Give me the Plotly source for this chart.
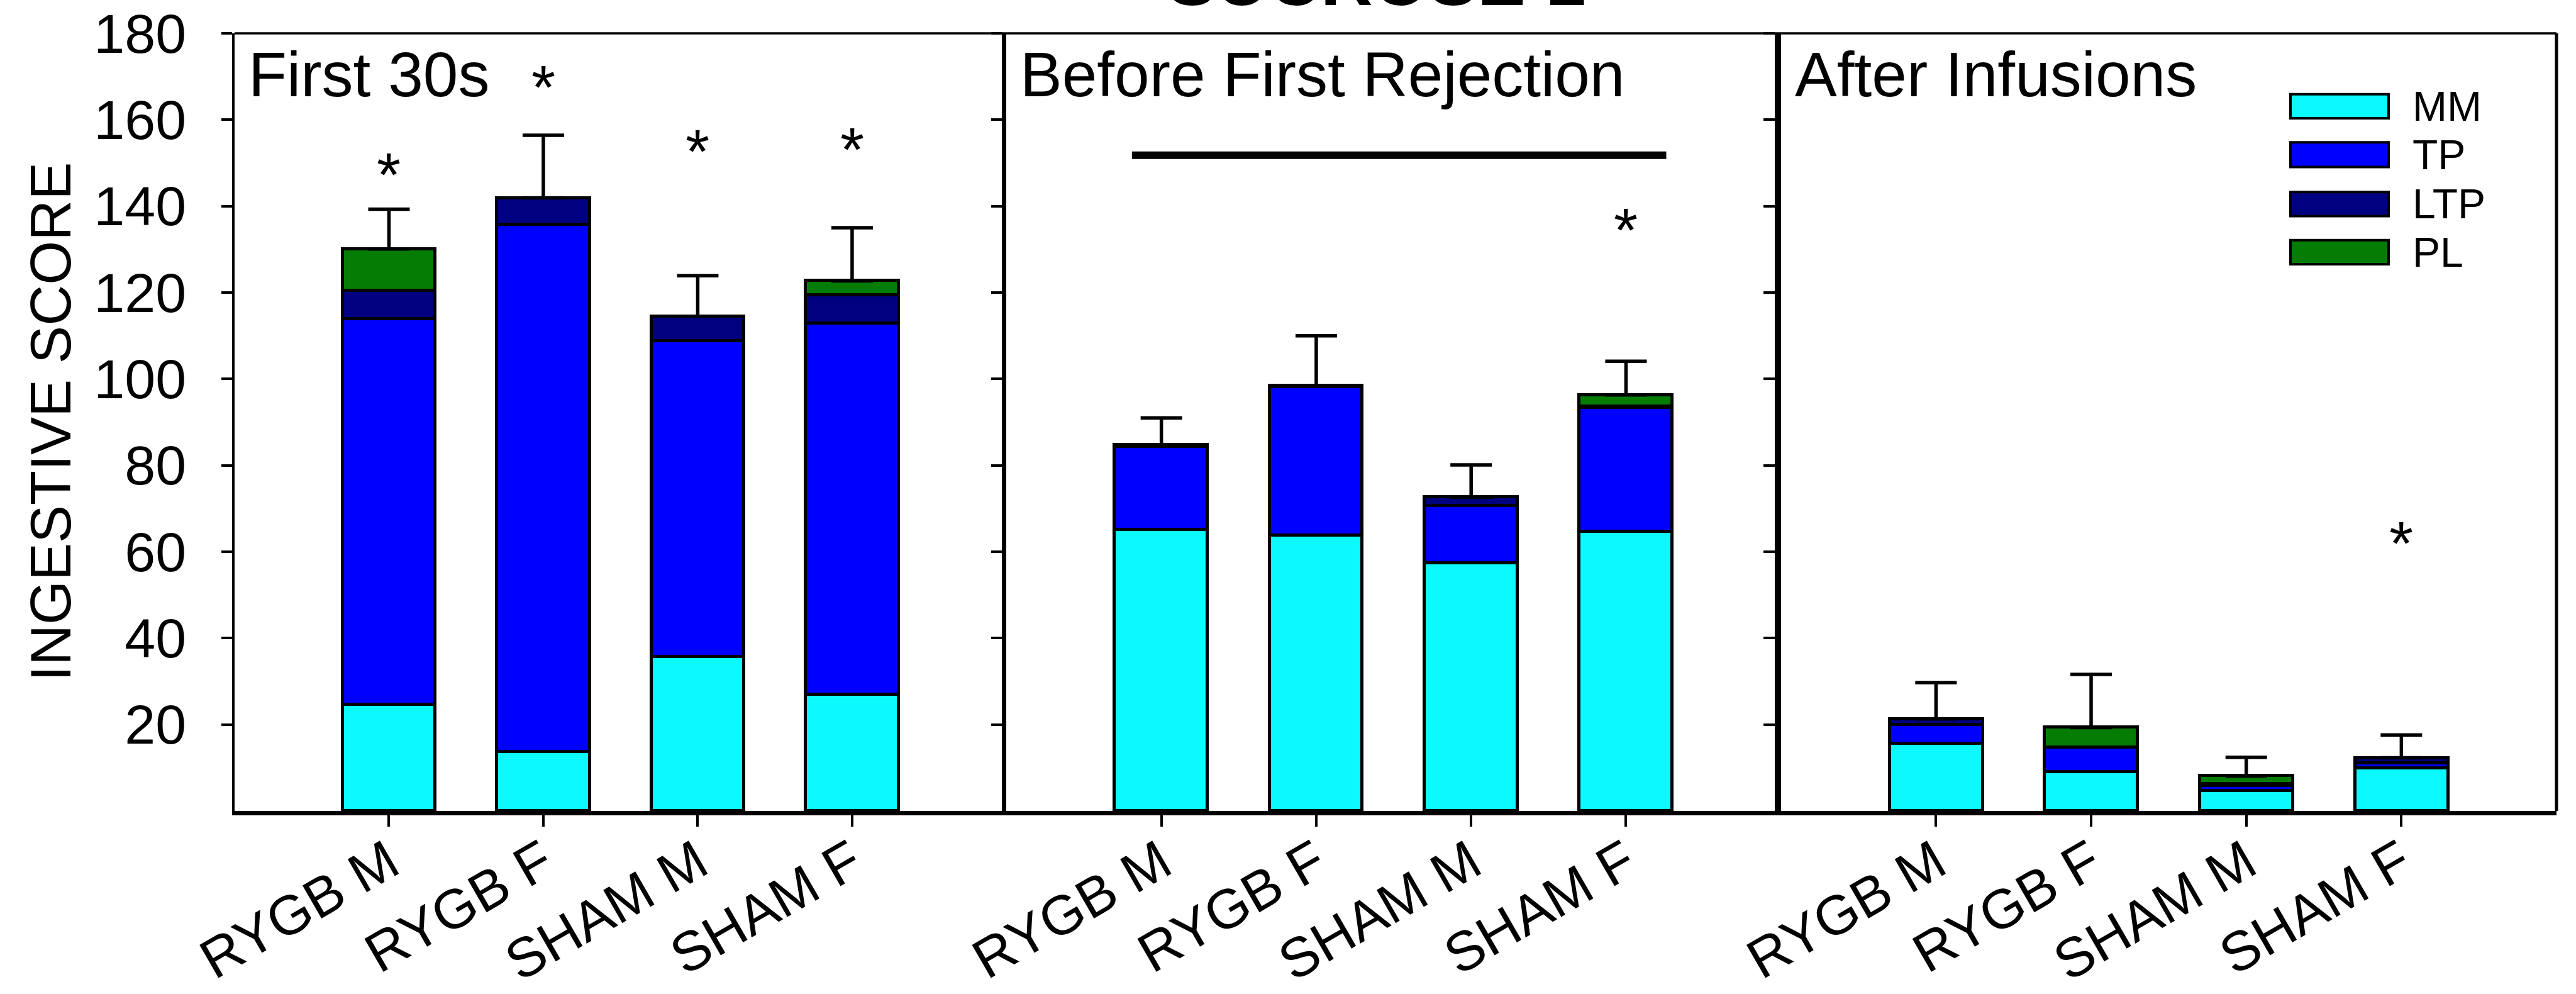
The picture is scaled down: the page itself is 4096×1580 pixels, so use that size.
import plotly.graph_objects as go

# ---- data -------------------------------------------------------------
GROUPS = ["RYGB M", "RYGB F", "SHAM M", "SHAM F"]
PANELS = ["First 30s", "Before First Rejection", "After Infusions"]
SERIES = ["MM", "TP", "LTP", "PL"]

# stacked components of the ingestive score, one list per panel
MM = [[24.6, 13.7, 35.7, 27.0],
      [65.1, 63.8, 57.4, 64.7],
      [15.6, 9.1, 4.7, 9.9]]
TP = [[89.3, 122.1, 73.1, 85.8],
      [19.2, 34.3, 13.3, 28.6],
      [4.3, 5.6, 1.1, 1.1]]
LTP = [[6.5, 6.1, 5.7, 6.6],
       [0.5, 0.4, 1.9, 0.4],
       [1.4, 0.0, 0.4, 1.3]]
PL = [[9.7, 0.0, 0.0, 3.3],
      [0.0, 0.0, 0.0, 2.6],
      [0.0, 4.6, 1.9, 0.0]]
SEM = [[9.2, 14.5, 9.4, 12.3],
       [6.2, 11.5, 7.5, 7.8],
       [8.4, 12.3, 4.3, 5.3]]

# significance marks: (panel, group index, height of the asterisk)
STARS = [(0, 0, 150.3), (0, 1, 170.6), (0, 2, 155.7), (0, 3, 156.1),
         (1, 3, 137.5), (2, 3, 65.0)]
# bar across the "Before First Rejection" groups
BRACKET = (1, -0.19, 3.26, 151.8)

Y_TICKS = [20, 40, 60, 80, 100, 120, 140, 160, 180]

# ---- style -------------------------------------------------------------
COLORS = {"MM": "#0CF9FF", "TP": "#0000FF", "LTP": "#000080", "PL": "#057D05"}
FONT = "Arial, Liberation Sans, sans-serif"

W, H = 4096, 1580
L, R, T, B = 373, 31, 53, 291
PW, PH = W - L - R, H - T - B
D1 = (1600.4 - L) / PW
D2 = (2831.7 - L) / PW


def px_x(p):
    return (p - L) / PW


def px_y(p):
    return 1 - (p - T) / PH


POS = list(range(len(GROUPS)))
stacks = {"MM": MM, "TP": TP, "LTP": LTP, "PL": PL}

fig = go.Figure()
for p in range(len(PANELS)):
    xa = "x" if p == 0 else f"x{p + 1}"
    ya = "y" if p == 0 else f"y{p + 1}"
    for s in SERIES:
        fig.add_trace(go.Bar(
            x=POS, y=stacks[s][p], name=s, width=0.6,
            marker=dict(color=COLORS[s], line=dict(color="black", width=5)),
            xaxis=xa, yaxis=ya, showlegend=False, hoverinfo="skip",
        ))
    totals = [sum(stacks[s][p][i] for s in SERIES) for i in POS]
    fig.add_trace(go.Scatter(
        x=POS, y=totals, mode="markers",
        marker=dict(size=1, color="rgba(0,0,0,0)"),
        error_y=dict(type="data", symmetric=False, array=SEM[p],
                     arrayminus=[0] * len(POS), color="black",
                     thickness=5.5, width=33),
        xaxis=xa, yaxis=ya, showlegend=False, hoverinfo="skip",
    ))

axis_common = dict(range=[-1, 4], tickvals=POS, ticktext=GROUPS, tickangle=-30,
                   ticks="outside", ticklen=17.5, tickwidth=3.5, tickcolor="black",
                   ticklabelstandoff=-28,
                   showline=True, linecolor="black", linewidth=7,
                   showgrid=False, zeroline=False, automargin=False,
                   tickfont=dict(family=FONT, size=88, color="black"))
yaxis_common = dict(range=[0, 180], tickvals=Y_TICKS, ticks="outside",
                    ticklen=17.5, tickwidth=3.5, tickcolor="black",
                    showline=True, linecolor="black",
                    showgrid=False, zeroline=False, automargin=False,
                    tickfont=dict(family=FONT, size=88, color="black"))

fig.update_layout(
    width=W, height=H,
    margin=dict(l=L, r=R, t=T, b=B, autoexpand=False),
    paper_bgcolor="white", plot_bgcolor="white",
    barmode="stack", bargap=0,
    xaxis=dict(domain=[0, D1], anchor="y", **axis_common),
    xaxis2=dict(domain=[D1, D2], anchor="y2", **axis_common),
    xaxis3=dict(domain=[D2, 1], anchor="y3", **axis_common),
    yaxis=dict(anchor="x", linewidth=3.5, ticklabelstandoff=38, **yaxis_common),
    yaxis2=dict(anchor="x2", linewidth=7, showticklabels=False, **yaxis_common),
    yaxis3=dict(anchor="x3", linewidth=10, showticklabels=False, **yaxis_common),
)

shapes = [
    # top frame line and right edge
    dict(type="line", xref="paper", yref="paper", x0=0, x1=1, y0=1, y1=1,
         line=dict(color="black", width=3.5)),
    dict(type="line", xref="paper", yref="paper", x0=1, x1=1, y0=0, y1=1,
         line=dict(color="black", width=5)),
]
bp, bx0, bx1, by = BRACKET
shapes.append(dict(type="line", xref=f"x{bp + 1}", yref=f"y{bp + 1}",
                   x0=bx0, x1=bx1, y0=by, y1=by,
                   line=dict(color="black", width=12)))

annotations = []
# panel headings
for p, name in enumerate(PANELS):
    xd = "x domain" if p == 0 else f"x{p + 1} domain"
    yd = "y domain" if p == 0 else f"y{p + 1} domain"
    annotations.append(dict(text=name, xref=xd, yref=yd, x=0, y=1,
                            xanchor="left", yanchor="middle",
                            xshift=20, yshift=-64.6, showarrow=False,
                            font=dict(family=FONT, size=100, color="black")))
# asterisks
for p, g, h in STARS:
    xr = "x" if p == 0 else f"x{p + 1}"
    yr = "y" if p == 0 else f"y{p + 1}"
    annotations.append(dict(text="*", xref=xr, yref=yr, x=g, y=h,
                            xanchor="center", yanchor="middle", yshift=-21,
                            showarrow=False,
                            font=dict(family=FONT, size=98, color="black")))
# y-axis title
annotations.append(dict(text="INGESTIVE SCORE", xref="paper", yref="paper",
                        x=px_x(81), y=0.5, textangle=-90,
                        xanchor="center", yanchor="middle", showarrow=False,
                        font=dict(family=FONT, size=90, color="black")))
# figure title, running off the top edge
annotations.append(dict(text="<b>SUCROSE 1</b>", xref="paper", yref="paper",
                        x=px_x(2189), y=1, xanchor="center", yanchor="middle",
                        yshift=85, showarrow=False,
                        font=dict(family=FONT, size=115, color="black")))

# legend
LEG_X0, LEG_X1 = 3642, 3798
LEG_ROWS = [(149.8, 188.1), (226.3, 265.4), (305.3, 343.5), (381.8, 420.0)]
for s, (y0, y1) in zip(SERIES, LEG_ROWS):
    shapes.append(dict(type="rect", xref="paper", yref="paper",
                       x0=px_x(LEG_X0), x1=px_x(LEG_X1),
                       y0=px_y(y1), y1=px_y(y0),
                       fillcolor=COLORS[s], line=dict(color="black", width=4)))
    annotations.append(dict(text=s, xref="paper", yref="paper",
                            x=px_x(3834), y=px_y((y0 + y1) / 2),
                            xanchor="left", yanchor="middle", showarrow=False,
                            font=dict(family=FONT, size=66, color="black")))

fig.update_layout(shapes=shapes, annotations=annotations)
fig.write_html("out.html")
